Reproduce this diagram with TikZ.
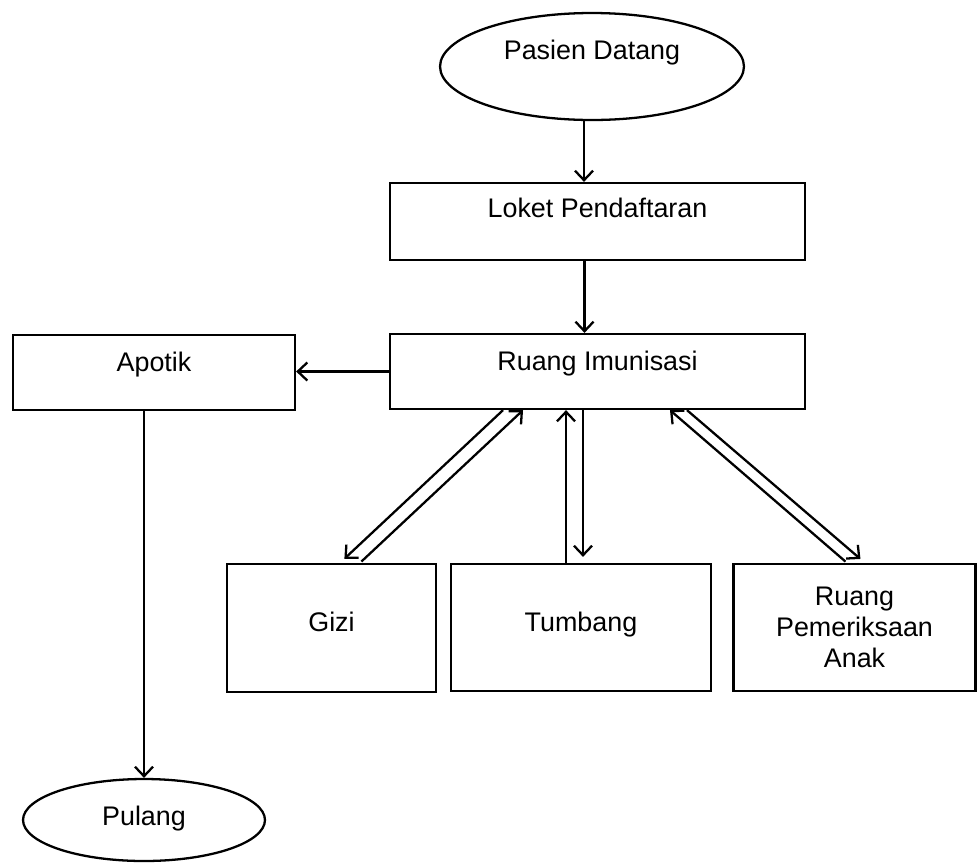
\documentclass[tikz,border=0pt]{standalone}
\usepackage{fontspec}
\setmainfont{Liberation Sans}
\usetikzlibrary{shapes.geometric,arrows.meta}

\tikzset{
	kotak/.style={draw, line width=1.3pt, inner sep=0pt, font=\fontsize{15.3}{17.6}\selectfont},
	oval/.style={kotak, ellipse},
	naik/.style={text height=0.39cm, text depth=#1},
	panah/.style={-{Straight Barb[length=1.9mm,width=3.6mm]}, line width=1.3pt},
}

\begin{document}
\begin{tikzpicture}[x=0.02cm, y=-0.02cm]
	\useasboundingbox (0,0) rectangle (977,863);

	\node[oval, naik=0.66cm, minimum width=6.08cm, minimum height=2.14cm] (pasien) at (592,66.5) {Pasien Datang};
	\node[kotak, naik=0.54cm, minimum width=8.3cm, minimum height=1.54cm] (loket) at (597.5,221.5) {Loket Pendaftaran};
	\node[kotak, naik=0.42cm, minimum width=8.3cm, minimum height=1.5cm] (ruang) at (597.5,371.5) {Ruang Imunisasi};
	\node[kotak, naik=0.42cm, minimum width=5.64cm, minimum height=1.5cm] (apotik) at (154,372.5) {Apotik};

	\node[kotak, naik=0.24cm, minimum width=4.18cm, minimum height=2.56cm] (gizi) at (331.5,628) {Gizi};
	\node[kotak, naik=0.24cm, minimum width=5.2cm, minimum height=2.54cm] (tumbang) at (581,627.5) {Tumbang};
	\node[kotak, align=center, minimum width=4.84cm, minimum height=2.54cm] (periksa) at (854.5,627.5) {Ruang\\Pemeriksaan\\Anak};

	\node[oval, naik=0.16cm, minimum width=4.84cm, minimum height=1.64cm] (pulang) at (144,820) {Pulang};

	\draw[panah] ([xshift=-0.16cm]pasien.south) -- ([xshift=-0.16cm]pasien.south |- loket.north);
	\draw[panah] ([xshift=-0.26cm]loket.south) -- ([xshift=-0.26cm]ruang.north);
	\draw[panah] (ruang.west) -- (ruang.west -| apotik.east);
	\draw[panah] (apotik.south -| pulang.north) -- (pulang.north);

	\draw[panah, shorten >=0.12cm] ([xshift=-1.89cm]ruang.south) -- ([xshift=0.17cm]gizi.north);
	\draw[panah, shorten <=0.04cm] ([xshift=0.57cm]gizi.north) -- ([xshift=-1.49cm]ruang.south);

	\draw[panah] ([xshift=-0.3cm]tumbang.north) -- ([xshift=-0.3cm]tumbang.north |- ruang.south);
	\draw[panah, shorten >=0.12cm] ([xshift=0.04cm]tumbang.north |- ruang.south) -- ([xshift=0.04cm]tumbang.north);

	\draw[panah, shorten <=0.04cm] ([xshift=-0.15cm]periksa.north) -- ([xshift=1.45cm]ruang.south);
	\draw[panah, shorten >=0.12cm] ([xshift=1.79cm]ruang.south) -- ([xshift=0.21cm]periksa.north);
\end{tikzpicture}
\end{document}
